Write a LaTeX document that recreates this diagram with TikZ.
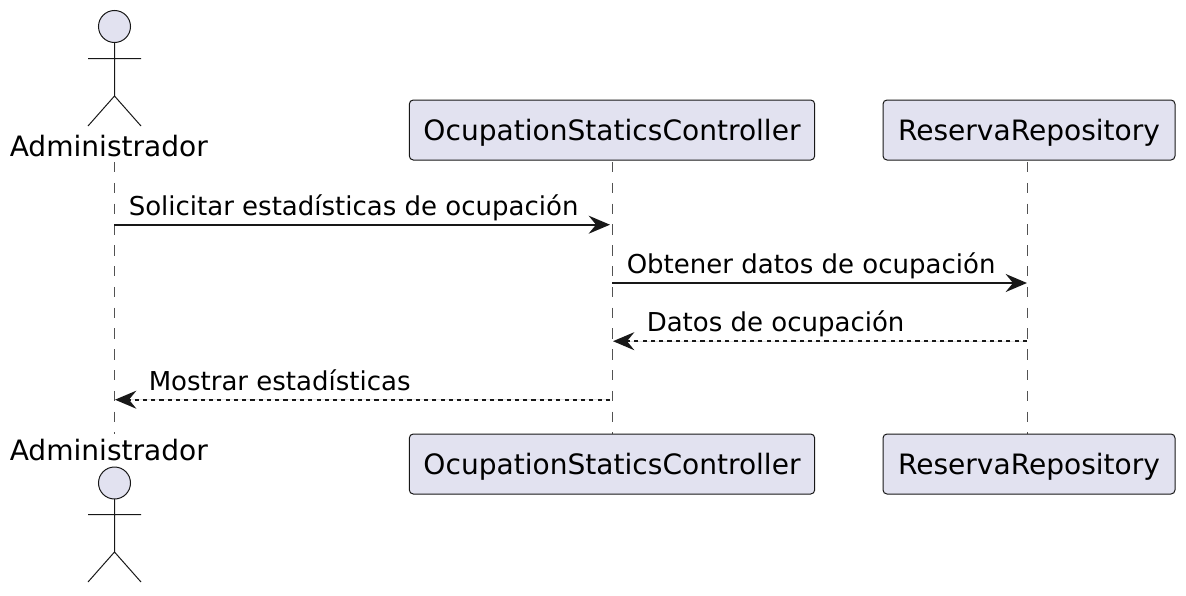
\documentclass[tikz,border=0pt]{standalone}
\usepackage{fontspec}
\setmainfont{DejaVu Sans}
\usetikzlibrary{arrows.meta}
\begin{document}
\begin{tikzpicture}[x=0.75pt,y=-0.75pt,
    every node/.style={inner sep=0pt, font=\fontsize{19.5pt}{24pt}\selectfont},
    box/.style={draw=umlLine, fill=umlFill, line width=0.75pt, rounded corners=3pt, minimum height=45pt, text depth=0pt, font=\fontsize{21.05pt}{26pt}\selectfont},
    actorlabel/.style={anchor=base west, font=\fontsize{21.05pt}{26pt}\selectfont},
    msglabel/.style={anchor=base west},
    lifeline/.style={draw=umlLine!75, line width=0.75pt, dash pattern=on 7.8pt off 7.8pt},
    msg/.style={-{Stealth[length=16pt,width=13.5pt,inset=5.5pt]}, draw=umlLine, fill=umlLine, line width=1.5pt},
    reply/.style={msg, dash pattern=on 3.1pt off 3.1pt},
    actorline/.style={draw=umlLine, line width=0.75pt},
    actorhead/.style={draw=umlLine, fill=umlFill, line width=0.75pt}]
  \definecolor{umlFill}{HTML}{E2E2F0}
  \definecolor{umlLine}{HTML}{181818}
  \useasboundingbox (0,0) rectangle (1186,596);
  \coordinate (adminTop) at (114,162);
  \coordinate (adminBottom) at (114,434);
  \coordinate (ctrlTop) at (612,162);
  \coordinate (ctrlBottom) at (612,434);
  \coordinate (repoTop) at (1027,162);
  \coordinate (repoBottom) at (1027,434);
  \draw[lifeline] (adminTop) -- (adminBottom);
  \draw[lifeline] (ctrlTop) -- (ctrlBottom);
  \draw[lifeline] (repoTop) -- (repoBottom);
  \draw[actorhead] (114.5,26.5) circle (16);
  \draw[actorline] (114.5,42.5) -- (114.5,96) (88,58.5) -- (141,58.5) (88,126) -- (114.5,96) -- (141,126);
  \node[actorlabel] (adminLabelTop) at (9.5,156.5) {Administrador};
  \node[box, minimum width=304pt] (ctrlBoxTop) at (612,130) {OcupationStaticsController};
  \node[box, minimum width=219pt] (repoBoxTop) at (1029,130) {ReservaRepository};
  \node[actorlabel] (adminLabelBottom) at (9.5,460.5) {Administrador};
  \draw[actorhead] (114.5,483) circle (16);
  \draw[actorline] (114.5,499) -- (114.5,552) (88,514.5) -- (141,514.5) (88,582) -- (114.5,552) -- (141,582);
  \node[box, minimum width=304pt] (ctrlBoxBottom) at (612,464) {OcupationStaticsController};
  \node[box, minimum width=219pt] (repoBoxBottom) at (1029,464) {ReservaRepository};
  \coordinate (reqFrom) at (114,224.7);
  \coordinate (reqTo) at (610,224.7);
  \coordinate (getFrom) at (612,283);
  \coordinate (getTo) at (1027,283);
  \coordinate (dataFrom) at (1027,341.2);
  \coordinate (dataTo) at (613,341.2);
  \coordinate (showFrom) at (610,399.7);
  \coordinate (showTo) at (115,399.7);
  \draw[msg] (reqFrom) -- (reqTo);
  \node[msglabel] (reqLabel) at (128.5,215) {Solicitar estadísticas de ocupación};
  \draw[msg] (getFrom) -- (getTo);
  \node[msglabel] (getLabel) at (626.5,273.5) {Obtener datos de ocupación};
  \draw[reply] (dataFrom) -- (dataTo);
  \node[msglabel] (dataLabel) at (646.5,331.5) {Datos de ocupación};
  \draw[reply] (showFrom) -- (showTo);
  \node[msglabel] (showLabel) at (148.5,390) {Mostrar estadísticas};
\end{tikzpicture}
\end{document}
